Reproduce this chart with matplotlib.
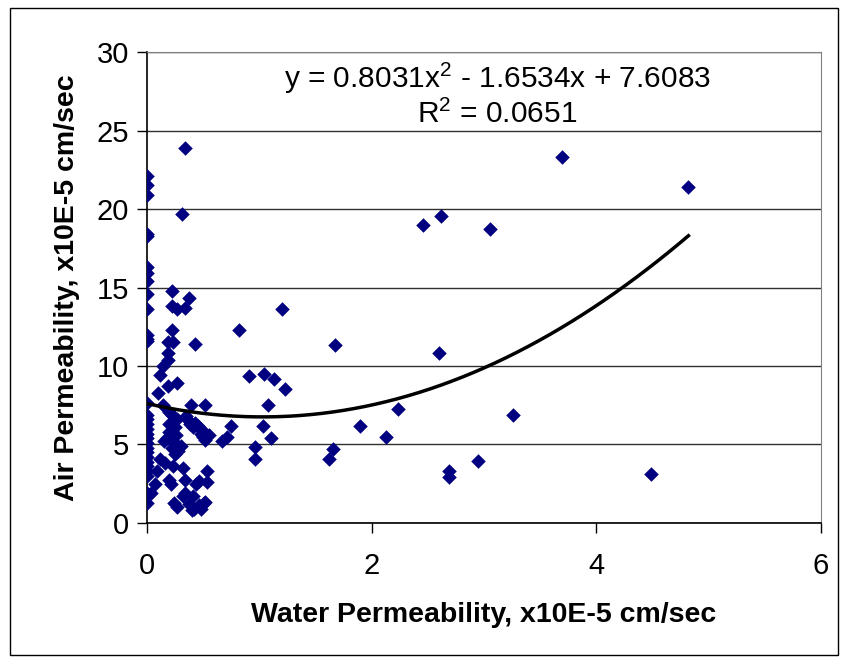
import numpy as np
import matplotlib
matplotlib.use("Agg")
import matplotlib.pyplot as plt
from matplotlib.patches import Rectangle

plt.rcParams["font.family"] = ["Liberation Sans", "DejaVu Sans"]
plt.rcParams["mathtext.default"] = "regular"

# ---- data ----
water_perm = [
    0, 0, 0, 0, 0, 0, 0, 0, 0, 0, 0, 0, 0, 0, 0, 0, 0, 0, 0, 0,
    0, 0, 0, 0, 0, 0, 0, 0, 0, 0,
    0.04, 0.07, 0.085, 0.095,
    0.115, 0.145, 0.19, 0.19, 0.19, 0.235, 0.225, 0.225, 0.27, 0.34,
    0.225, 0.37, 0.31, 0.34, 0.43, 0.19, 0.27, 0.145, 0.2, 0.22,
    0.27, 0.2, 0.25, 0.2, 0.26, 0.175, 0.15, 0.25, 0.3, 0.22,
    0.25, 0.28, 0.115, 0.16, 0.235, 0.32, 0.2, 0.34, 0.21, 0.32,
    0.34, 0.41, 0.24, 0.27, 0.37, 0.42, 0.48, 0.51, 0.46, 0.52,
    0.4, 0.44, 0.53, 0.46, 0.53, 0.39, 0.52, 0.36, 0.38, 0.41,
    0.45, 0.48, 0.5, 0.52, 0.55, 0.49, 0.43, 0.35,
    0.665, 0.71, 0.75, 0.819, 0.91, 0.96, 0.96, 1.03, 1.04, 1.08,
    1.1, 1.13, 1.2, 1.23, 1.62, 1.66, 1.67, 1.9, 2.13, 2.23,
    2.456, 2.6, 2.62, 2.69, 2.69, 2.95, 3.05, 3.26, 3.69, 4.49, 4.82,
]
air_perm = [
    22.1, 21.5, 20.9, 18.4, 18.3, 16.3, 15.9, 15.4, 14.6, 13.6,
    12.0, 11.7, 11.6, 7.65, 6.9, 6.6, 6.3, 6.0, 5.7, 5.4,
    5.1, 4.8, 4.5, 4.2, 3.9, 3.6, 3.3, 3.0, 1.9, 1.3,
    1.9, 2.5, 3.3, 8.3,
    9.4, 10.0, 10.4, 10.8, 11.5, 11.5, 12.3, 13.8, 13.6, 13.7,
    14.8, 14.3, 19.7, 23.9, 11.4, 8.7, 8.9, 7.5, 7.1, 6.9,
    6.6, 6.3, 6.1, 5.8, 5.6, 5.4, 5.2, 5.1, 4.9, 4.8,
    4.4, 4.6, 4.1, 3.8, 3.6, 3.5, 2.75, 2.75, 2.5, 1.7,
    1.9, 1.7, 1.3, 1.0, 1.2, 0.9, 0.9, 1.3, 1.15, 1.35,
    0.8, 2.5, 2.6, 2.7, 3.3, 7.5, 7.5, 6.6, 6.3, 6.1,
    6.2, 5.7, 5.5, 5.3, 5.6, 5.9, 6.4, 6.8,
    5.2, 5.45, 6.2, 12.3, 9.35, 4.85, 4.1, 6.15, 9.5, 7.5,
    5.4, 9.2, 13.6, 8.55, 4.1, 4.7, 11.35, 6.2, 5.45, 7.25,
    18.95, 10.8, 19.55, 3.3, 2.9, 3.95, 18.75, 6.9, 23.3, 3.15, 21.4,
]

# trendline coefficients shown on the chart
fit_a, fit_b, fit_c = 0.8031, -1.6534, 7.6083
r_squared = 0.0651

x_ticks = [0, 2, 4, 6]
y_ticks = [0, 5, 10, 15, 20, 25, 30]

fig = plt.figure(figsize=(8.41, 6.61), dpi=100)
ax = fig.add_axes([0.1748, 0.2088, 0.8014, 0.7125])

# figure border like the excel chart area
fig.patches.append(Rectangle((0.012, 0.009), 0.984, 0.979, transform=fig.transFigure,
                             fill=False, edgecolor="black", linewidth=1.0))

ax.set_xlim(0, 6)
ax.set_ylim(0, 30)
ax.set_xticks(x_ticks)
ax.set_yticks(y_ticks)
ax.yaxis.grid(True, color="#303030", linewidth=1.0)
ax.set_axisbelow(True)

ax.scatter(water_perm, air_perm, marker="D", s=55, color="#000080", linewidths=0, zorder=3)

xs = np.linspace(0, max(water_perm), 200)
ax.plot(xs, fit_a * xs**2 + fit_b * xs + fit_c, color="black", linewidth=2.5, zorder=4)

ax.text(3.12, 28.35, "y = 0.8031x$^{2}$ - 1.6534x + 7.6083", ha="center", va="center", fontsize=21.5)
ax.text(3.12, 26.0, "R$^{2}$ = %.4f" % r_squared, ha="center", va="center", fontsize=21.5)

for side in ["top", "right"]:
    ax.spines[side].set_color("#808080")
for side in ["left", "bottom"]:
    ax.spines[side].set_color("black")
    ax.spines[side].set_linewidth(1.2)

ax.tick_params(axis="both", direction="out", length=7, width=1, labelsize=21, colors="black")
ax.tick_params(axis="x", pad=14)
ax.tick_params(axis="y", pad=6)

ax.set_xlabel("Water Permeability, x10E-5 cm/sec", fontsize=20.5, fontweight="bold", labelpad=16)
ax.set_ylabel("Air Permeability, x10E-5 cm/sec", fontsize=20.5, fontweight="bold", labelpad=12)

fig.savefig("out.png", dpi=100)
